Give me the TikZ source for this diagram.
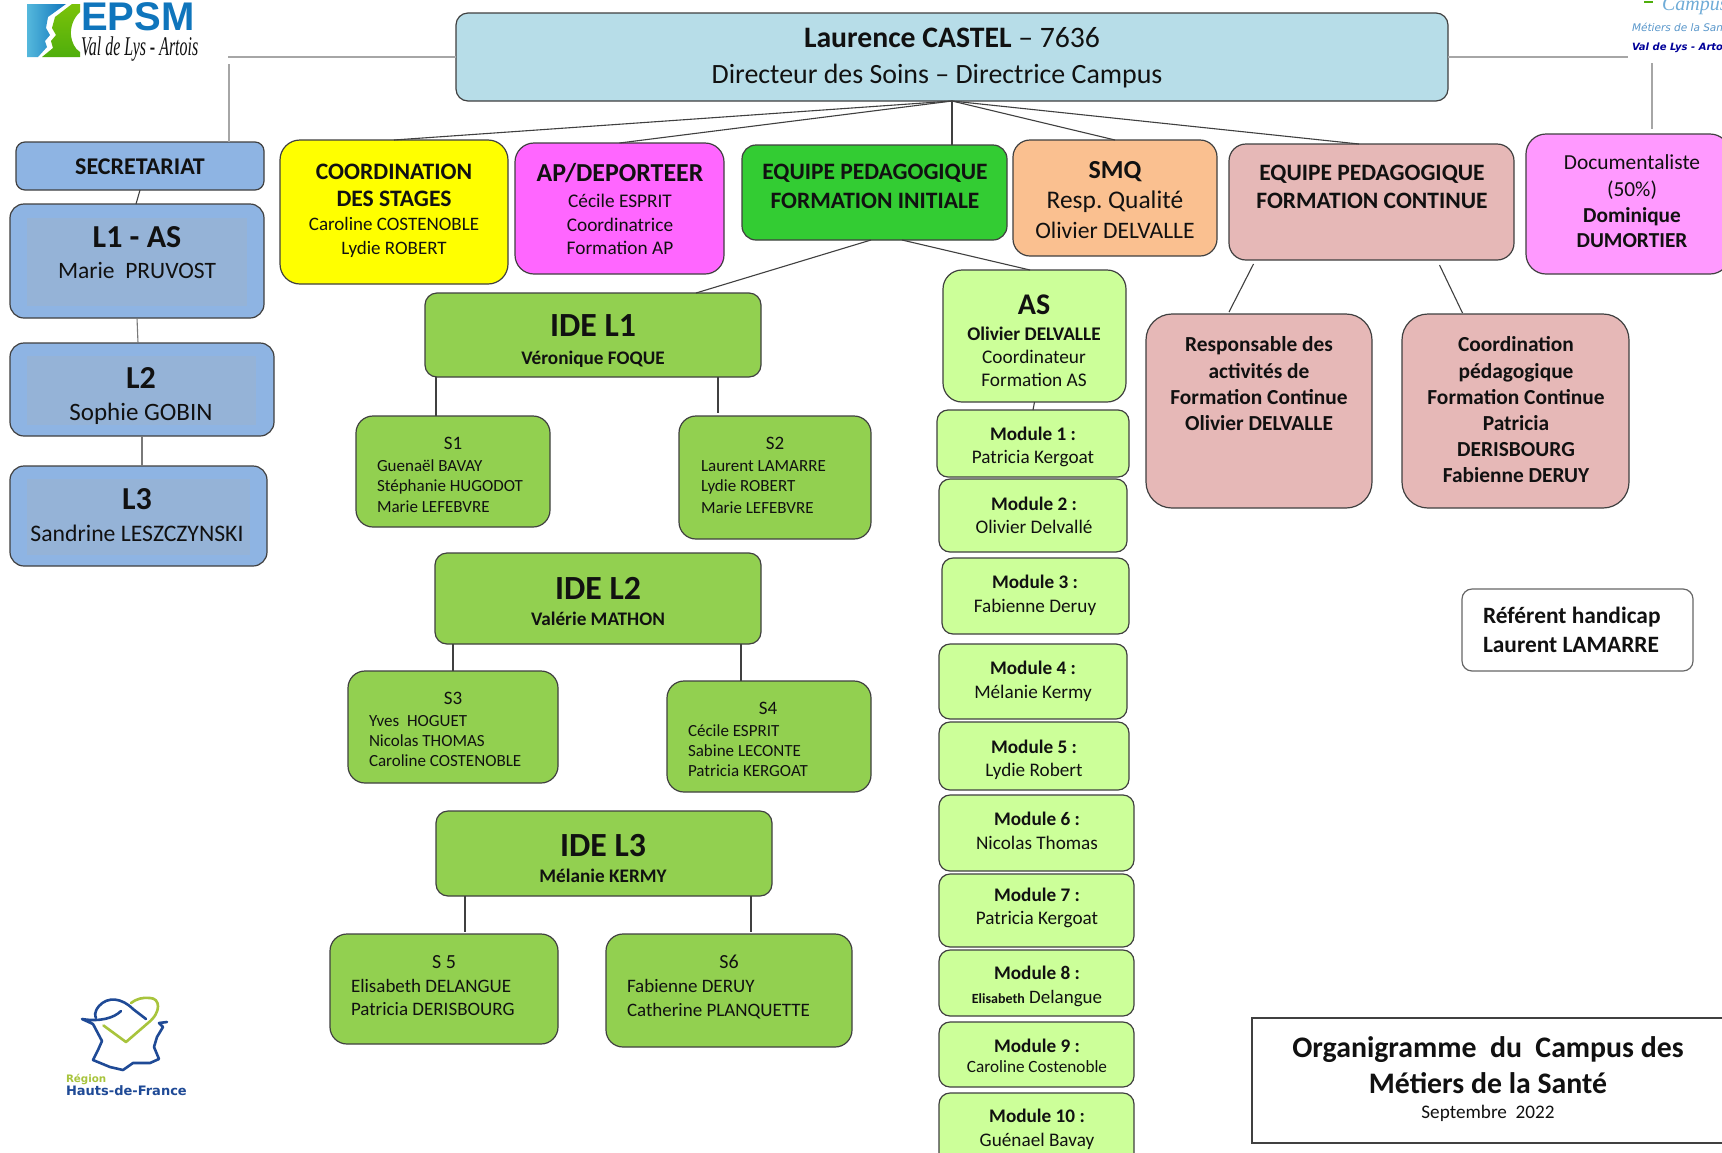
\documentclass[tikz,border=0pt]{standalone}
\usepackage{fontspec}
\setmainfont{Carlito}
\newfontfamily\arialf{Liberation Sans}
\newfontfamily\serifi{Liberation Serif}
\newfontfamily\dejav{DejaVu Sans}
\usetikzlibrary{calc}
\definecolor{ink}{HTML}{111111}
\definecolor{edge}{HTML}{404040}
\definecolor{lgrey}{HTML}{A6A6A6}
\definecolor{cmain}{HTML}{B7DDE8}
\definecolor{cblue}{HTML}{8EB4E3}
\definecolor{cblueb}{HTML}{95B3D7}
\definecolor{cyell}{HTML}{FFFF00}
\definecolor{cmag}{HTML}{FF66FF}
\definecolor{cgreen}{HTML}{33CC33}
\definecolor{corange}{HTML}{FAC090}
\definecolor{cpink}{HTML}{E6B8B7}
\definecolor{cdoc}{HTML}{FF99FF}
\definecolor{cide}{HTML}{92D050}
\definecolor{cas}{HTML}{CCFF99}
\definecolor{logoblue}{HTML}{0F75BC}
\definecolor{logolight}{HTML}{55B8DC}
\definecolor{logogreen}{HTML}{4FAE0C}
\definecolor{regblue}{HTML}{1F4A96}
\definecolor{reggreen}{HTML}{A8C43C}
\tikzset{
  box/.style={draw=edge,line width=1.2pt,fill=white,rounded corners=10pt,inner sep=0pt,outer sep=0pt,text=ink},
  bluebox/.style={box,fill=cblue,rounded corners=14pt},
  innerrect/.style n args={4}{path picture={\fill[cblueb,sharp corners] ([xshift=#1pt,yshift=-#2pt]path picture bounding box.north west) rectangle ([xshift=-#3pt,yshift=#4pt]path picture bounding box.south east);}},
  idebox/.style={box,fill=cide,rounded corners=12pt},
  asbox/.style={box,fill=cas,rounded corners=11pt},
  pinkbox/.style={box,fill=cpink,rounded corners=26pt},
  conn/.style={draw=edge,line width=1.1pt},
  topconn/.style={draw=lgrey,line width=1.8pt},
  logotxt/.style={inner sep=0pt,outer sep=0pt,anchor=west}
}
% box with corners (x1,y1),(x2,y2); lines are placed at picture coordinates
\newcommand{\nd}[7]{%
  \pgfmathsetmacro\ncx{(#2+#4)/2}\pgfmathsetmacro\ncy{(#3+#5)/2}%
  \pgfmathsetmacro\nw{#4-#2}\pgfmathsetmacro\nh{#5-#3}%
  \node[#6,minimum width=\nw pt,minimum height=\nh pt] (#1) at (\ncx,\ncy) {#7};%
}
\newcommand{\tlx}[6]{%
  \pgfmathsetlengthmacro\rz{\ncy-(#3)-0.34*(#4)}%
  \pgfmathsetlengthmacro\hz{(#2)-\ncx}%
  \makebox[0pt][l]{\hspace*{\hz}\raisebox{\rz}[0pt][0pt]{\makebox[0pt][#1]{\frenchspacing\fontsize{#4}{#4}\selectfont #5#6}}}%
}
\newcommand{\trc}[4]{\tlx{c}{#1}{#2}{#3}{}{#4}}
\newcommand{\tbc}[4]{\tlx{c}{#1}{#2}{#3}{\bfseries}{#4}}
\newcommand{\trl}[4]{\tlx{l}{#1}{#2}{#3}{}{#4}}
\newcommand{\tbl}[4]{\tlx{l}{#1}{#2}{#3}{\bfseries}{#4}}
\begin{document}
\begin{tikzpicture}[x=1pt,y=-1pt]
\useasboundingbox (0,0) rectangle (1722,1152);
\fill[white] (0,0) rectangle (1722,1152);

% ---- logos
\shade[top color=logogreen!75!yellow,bottom color=logogreen] (80,4) -- (72,4) -- (55,17) -- (52,28) -- (56,35) -- (51,41) -- (53,48) -- (42,57) -- (80,57) -- (80,52) .. controls (70,46) and (66,25) .. (80,12) -- cycle;
\shade[left color=logolight,right color=logoblue] (27,4) -- (66,4) -- (48,17) -- (46,28) -- (50,35) -- (45,41) -- (47,47) -- (38,57) -- (27,57) -- cycle;
\node[logotxt,text=logoblue,font=\arialf\bfseries\fontsize{40}{40}\selectfont] (epsm) at (81,17) {EPSM};
\node[logotxt,text=ink,xscale=.59,font=\serifi\itshape\fontsize{27}{27}\selectfont] (valdelys) at (81,49) {Val de Lys - Artois};

\node[logotxt,text=logoblue!60!white,font=\serifi\itshape\fontsize{20}{20}\selectfont] (campus) at (1662,6) {Campus};
\draw[logogreen,line width=1.5pt] (1644,2) -- (1653,2);
\node[logotxt,text=logoblue!45!cblueb,font=\dejav\itshape\fontsize{10.5}{10.5}\selectfont] (metiers) at (1632,27) {Métiers de la Santé};
\node[logotxt,text=blue!60!black,font=\dejav\bfseries\itshape\fontsize{10}{10}\selectfont] (valcampus) at (1632,48) {Val de Lys - Artois};

\draw[reggreen,line width=2.6pt,line cap=round,line join=round] (103.5,1025.5) -- (126,1042) -- (148,1023) .. controls (162,1012) and (160,998) .. (150,998) .. controls (143,997) and (136,999) .. (131,1003);
\draw[regblue,line width=2.6pt,line cap=round,line join=round] (146,1019) -- (133,1009) .. controls (122,998) and (108,996) .. (99,1006) .. controls (94,1012) and (95,1016) .. (96,1018);
\draw[regblue,line width=2.6pt,line cap=round,line join=round] (121,1011) .. controls (114,1018) and (100,1022) .. (82,1019) -- (93,1024) -- (102,1041) -- (98,1050) -- (93,1060) -- (110,1067) -- (123,1070) -- (133,1063) -- (150,1063) -- (159,1059) -- (154,1047) -- (157,1037) -- (163,1027) -- (159,1023) -- (167,1022);
\node[logotxt,text=reggreen,font=\dejav\bfseries\fontsize{10.3}{10.3}\selectfont] (region) at (66,1079) {Région};
\node[logotxt,text=regblue,font=\dejav\bfseries\fontsize{13}{13}\selectfont] (hauts) at (66,1091) {Hauts-de-France};

% ---- top row
\nd{main}{456}{13}{1448}{101}{box,fill=cmain,rounded corners=12pt}{\trc{952}{37}{29.7}{\textbf{Laurence CASTEL} – 7636}\trc{937}{74}{27.9}{Directeur des Soins – Directrice Campus}}
\nd{sec}{16}{142}{264}{190}{box,fill=cblue,rounded corners=9pt}{\tbc{140}{166}{24}{SECRETARIAT}}
\nd{lone}{10}{204}{264}{318}{bluebox,innerrect={17}{14}{17}{12}}{\tbc{137}{237}{32}{L1 - AS}\trc{137}{271}{23.5}{Marie\ \ PRUVOST}}
\nd{ltwo}{10}{343}{274}{436}{bluebox,innerrect={17}{13}{18}{11}}{\tbc{141}{378}{32}{L2}\trc{141}{412}{25}{Sophie GOBIN}}
\nd{lthree}{10}{466}{267}{566}{bluebox,innerrect={17}{13}{17}{11}}{\tbc{137}{499}{32}{L3}\trc{137}{533}{23.7}{Sandrine LESZCZYNSKI}}
\nd{coord}{280}{140}{508}{284}{box,fill=cyell,rounded corners=20pt}{\tbc{394}{171}{23.6}{COORDINATION}\tbc{394}{198}{23.6}{DES STAGES}\trc{394}{224}{19}{Caroline COSTENOBLE}\trc{394}{248}{19}{Lydie ROBERT}}
\nd{ap}{515}{143}{724}{274}{box,fill=cmag,rounded corners=19pt}{\tbc{620}{173}{25.9}{AP/DEPORTEER}\trc{620}{201}{19.3}{Cécile ESPRIT}\trc{620}{225}{19.3}{Coordinatrice}\trc{620}{248}{19.3}{Formation AP}}
\nd{eqfi}{742}{145}{1007}{240}{box,fill=cgreen,rounded corners=14pt}{\tbc{875}{172}{23.5}{EQUIPE PEDAGOGIQUE}\tbc{875}{201}{23.5}{FORMATION INITIALE}}
\nd{smq}{1013}{140}{1217}{256}{box,fill=corange,rounded corners=17pt}{\tbc{1115}{170}{26}{SMQ}\trc{1115}{200}{25.4}{Resp. Qualité}\trc{1115}{230}{23.6}{Olivier DELVALLE}}
\nd{eqfc}{1229}{144}{1514}{260}{box,fill=cpink,rounded corners=17pt}{\tbc{1372}{173}{23.5}{EQUIPE PEDAGOGIQUE}\tbc{1372}{201}{23.5}{FORMATION CONTINUE}}
\nd{doc}{1526}{134}{1730}{274}{box,fill=cdoc,rounded corners=20pt}{\trc{1632}{162}{21.4}{Documentaliste}\trc{1632}{189}{21.4}{(50\%)}\tbc{1632}{215}{21.3}{Dominique}\tbc{1632}{240}{21.3}{DUMORTIER}}
\nd{resp}{1146}{314}{1372}{508}{pinkbox}{\tbc{1259}{344}{21.4}{Responsable des}\tbc{1259}{371}{21.4}{activités de}\tbc{1259}{397}{21.4}{Formation Continue}\tbc{1259}{423}{21.4}{Olivier DELVALLE}}
\nd{cope}{1402}{314}{1629}{508}{pinkbox}{\tbc{1516}{344}{21.4}{Coordination}\tbc{1516}{371}{21.4}{pédagogique}\tbc{1516}{397}{21.4}{Formation Continue}\tbc{1516}{423}{21.4}{Patricia}\tbc{1516}{449}{21.4}{DERISBOURG}\tbc{1516}{475}{21.4}{Fabienne DERUY}}

% ---- IDE
\nd{idea}{425}{293}{761}{377}{idebox}{\tbc{593}{325}{33.8}{IDE L1}\tbc{593}{358}{19.2}{Véronique FOQUE}}
\nd{sa}{356}{416}{550}{527}{idebox,rounded corners=17pt}{\trc{453}{443}{19}{S1}\trl{377}{466}{17}{Guenaël BAVAY}\trl{377}{486}{17}{Stéphanie HUGODOT}\trl{377}{507}{17}{Marie LEFEBVRE}}
\nd{sb}{679}{416}{871}{539}{idebox,rounded corners=17pt}{\trc{775}{443}{19}{S2}\trl{701}{466}{17}{Laurent LAMARRE}\trl{701}{486}{17}{Lydie ROBERT}\trl{701}{508}{17}{Marie LEFEBVRE}}
\nd{ideb}{435}{553}{761}{644}{idebox}{\tbc{598}{588}{33.8}{IDE L2}\tbc{598}{619}{19.2}{Valérie MATHON}}
\nd{sc}{348}{671}{558}{783}{idebox,rounded corners=17pt}{\trc{453}{698}{19}{S3}\trl{369}{721}{17}{Yves\ \ HOGUET}\trl{369}{741}{17}{Nicolas THOMAS}\trl{369}{761}{17}{Caroline COSTENOBLE}}
\nd{sd}{667}{681}{871}{792}{idebox,rounded corners=17pt}{\trc{768}{708}{19}{S4}\trl{688}{731}{17}{Cécile ESPRIT}\trl{688}{751}{17}{Sabine LECONTE}\trl{688}{771}{17}{Patricia KERGOAT}}
\nd{idec}{436}{811}{772}{896}{idebox}{\tbc{603}{845}{33.8}{IDE L3}\tbc{603}{876}{19.2}{Mélanie KERMY}}
\nd{se}{330}{934}{558}{1044}{idebox,rounded corners=17pt}{\trc{444}{962}{20}{S 5}\trl{351}{986}{19}{Elisabeth DELANGUE}\trl{351}{1009}{19}{Patricia DERISBOURG}}
\nd{sf}{606}{934}{852}{1047}{idebox,rounded corners=17pt}{\trc{729}{962}{20}{S6}\trl{627}{986}{19}{Fabienne DERUY}\trl{627}{1010}{19}{Catherine PLANQUETTE}}

% ---- AS column
\nd{as}{943}{270}{1126}{402}{asbox,rounded corners=19pt}{\tbc{1034}{304}{30}{AS}\tbc{1034}{334}{19.3}{Olivier DELVALLE}\trc{1034}{357}{19.3}{Coordinateur}\trc{1034}{380}{19.3}{Formation AS}}
\nd{ma}{937}{410}{1129}{477}{asbox}{\tbc{1033}{434}{19.2}{Module 1 :}\trc{1033}{457}{19.2}{Patricia Kergoat}}
\nd{mb}{939}{479}{1127}{552}{asbox}{\tbc{1034}{504}{19.2}{Module 2 :}\trc{1034}{527}{19.2}{Olivier Delvallé}}
\nd{mc}{942}{558}{1129}{634}{asbox}{\tbc{1035}{582}{19.2}{Module 3 :}\trc{1035}{606}{19.2}{Fabienne Deruy}}
\nd{md}{939}{644}{1127}{719}{asbox}{\tbc{1033}{668}{19.2}{Module 4 :}\trc{1033}{692}{19.2}{Mélanie Kermy}}
\nd{me}{939}{722}{1129}{790}{asbox}{\tbc{1034}{747}{19.2}{Module 5 :}\trc{1034}{770}{19.2}{Lydie Robert}}
\nd{mf}{939}{795}{1134}{871}{asbox}{\tbc{1037}{819}{19.2}{Module 6 :}\trc{1037}{843}{19.2}{Nicolas Thomas}}
\nd{mg}{939}{874}{1134}{947}{asbox}{\tbc{1037}{895}{19.2}{Module 7 :}\trc{1037}{918}{19.2}{Patricia Kergoat}}
\nd{mh}{939}{950}{1134}{1016}{asbox}{\tbc{1037}{973}{19.2}{Module 8 :}\trc{1037}{997}{19}{{\fontsize{14}{14}\selectfont\bfseries Elisabeth} Delangue}}
\nd{mi}{939}{1022}{1134}{1087}{asbox}{\tbc{1037}{1046}{19.2}{Module 9 :}\trc{1037}{1067}{17.2}{Caroline Costenoble}}
\nd{mj}{939}{1093}{1134}{1170}{asbox}{\tbc{1037}{1116}{19.2}{Module 10 :}\trc{1037}{1140}{19.2}{Guénael Bavay}}

% ---- right panels
\nd{hand}{1462}{589}{1693}{671}{box,draw=edge!80,rounded corners=10pt}{\tbl{1483}{616}{23.4}{Référent handicap}\tbl{1483}{645}{23.4}{Laurent LAMARRE}}
\nd{title}{1252}{1018}{1730}{1143}{box,rounded corners=0pt}{\tbc{1488}{1047}{29.8}{Organigramme\ \ du\ \ Campus des}\tbc{1488}{1083}{29.8}{Métiers de la Santé}\trc{1488}{1112}{19.2}{Septembre\ \ 2022}}

% ---- free ends of the connectors
\coordinate (lh) at (228,57);
\coordinate (lv) at (229,64);
\coordinate (rh) at (1628,57);
\coordinate (rv) at (1652,63);
\coordinate (re) at (1652,129);

% ---- connectors
\draw[topconn] (main.west |- lh) -- (lh);
\draw[topconn] (lv) -- ([xshift=89pt]sec.north);
\draw[topconn] (main.east |- rh) -- (rh);
\draw[topconn] (rv) -- (re);
\draw[conn] (main.south) -- (coord.north);
\draw[conn] (main.south) -- (ap.north);
\draw[conn] (main.south) -- ([xshift=77.5pt]eqfi.north);
\draw[conn] (main.south) -- (smq.north);
\draw[conn] (main.south) -- ([xshift=-12.5pt]eqfc.north);
\draw[conn] ([xshift=-3.5pt]eqfi.south) -- ([xshift=103pt]idea.north);
\draw[conn] ([xshift=27.5pt]eqfi.south) -- ([xshift=-4.5pt]as.north);
\draw[conn] ([xshift=-118pt,yshift=-4pt]eqfc.south) -- ([xshift=-30pt,yshift=2pt]resp.north);
\draw[conn] ([xshift=68pt,yshift=-5pt]eqfc.south) -- ([xshift=-53pt,yshift=1pt]cope.north);
\draw[conn] ([xshift=-157pt]idea.south) -- ([xshift=-17pt]sa.north);
\draw[conn] ([xshift=125pt]idea.south) -- ([xshift=-57pt,yshift=3pt]sb.north);
\draw[conn] ([xshift=-145pt]ideb.south) -- (sc.north);
\draw[conn] ([xshift=143pt]ideb.south) -- ([xshift=-28pt]sd.north);
\draw[conn] ([xshift=-139pt]idec.south) -- ([xshift=21pt,yshift=2pt]se.north);
\draw[conn] ([xshift=147pt]idec.south) -- ([xshift=22pt,yshift=2pt]sf.north);
\draw[conn] (sec.south) -- ([xshift=-1pt]lone.north);
\draw[conn,draw=edge!70] (lone.south) -- ([xshift=-4pt]ltwo.north);
\draw[conn,draw=edge!70] (ltwo.south) -- ([xshift=3.5pt]lthree.north);
\draw[conn] (as.south) -- (ma.north);
\end{tikzpicture}
\end{document}
